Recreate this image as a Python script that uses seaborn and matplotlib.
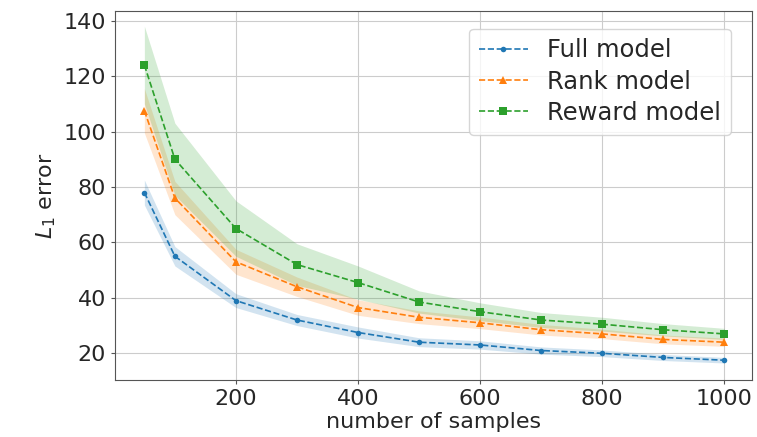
import matplotlib
matplotlib.use("Agg")
import matplotlib.pyplot as plt
import seaborn as sns
import numpy as np
import pandas as pd

samples = [50, 100, 200, 300, 400, 500, 600, 700, 800, 900, 1000]
full_mean = [78, 55, 39, 32, 27.5, 24, 23, 21, 20, 18.5, 17.5]
full_std = [4.5, 3.5, 2.5, 2, 2, 1.6, 1.5, 1.3, 1.2, 1.1, 1.0]
rank_mean = [107.5, 76, 53, 44, 36.5, 33, 31, 28.5, 27, 25, 24]
rank_std = [8, 6, 4.5, 3.5, 2.8, 2.3, 2.1, 1.9, 1.7, 1.6, 1.5]
reward_mean = [124, 90, 65, 52, 45.5, 38.5, 35, 32, 30.5, 28.5, 27]
reward_std = [14, 13, 10, 7.5, 6, 4, 3.2, 2.7, 2.5, 2.2, 2.0]

labels = ["Full model", "Rank model", "Reward model"]
means = [full_mean, rank_mean, reward_mean]
stds = [full_std, rank_std, reward_std]
markers = ["o", "^", "s"]
msizes = [4, 6, 6]
colors = ["#1f77b4", "#ff7f0e", "#2ca02c"]

sns.set_style("whitegrid", {"axes.edgecolor": "#555555", "grid.color": "#cccccc"})
fig, ax = plt.subplots(figsize=(7.57, 4.37), dpi=100)

for lab, m, s, mk, ms, c in zip(labels, means, stds, markers, msizes, colors):
    df = pd.DataFrame({"x": samples, "y": m})
    sns.lineplot(data=df, x="x", y="y", ax=ax, color=c, marker=mk, markersize=ms,
                 markeredgewidth=0, linestyle="--", linewidth=1.2, label=lab)
    lo = np.array(m) - np.array(s)
    hi = np.array(m) + np.array(s)
    ax.fill_between(samples, lo, hi, color=c, alpha=0.2, linewidth=0)

ax.set_xlabel("number of samples", fontsize=16, labelpad=2)
ax.set_ylabel("$L_1$ error", fontsize=16)
ax.set_xticks([200, 400, 600, 800, 1000])
ax.set_yticks([20, 40, 60, 80, 100, 120, 140])
ax.tick_params(labelsize=16, left=True, bottom=True, length=3, color="#555555")
ax.legend(fontsize=17.5, loc="upper right", bbox_to_anchor=(0.985, 0.985),
          handlelength=2.0, borderpad=0.4, labelspacing=0.3)
ax.set_ylim(10.3, 143.5)
ax.set_xlim(2, 1046)
plt.subplots_adjust(left=0.152, right=0.994, top=0.975, bottom=0.13)
fig.savefig("out.png", dpi=100)
